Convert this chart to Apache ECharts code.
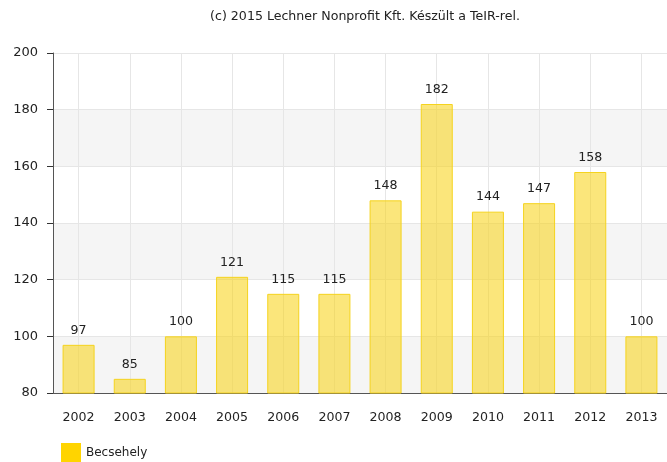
<!DOCTYPE html>
<html>
<head>
<meta charset="utf-8">
<script src="https://cdn.jsdelivr.net/npm/echarts@6/dist/echarts.min.js"></script>
<style>
  html, body { margin: 0; padding: 0; background: #fff; }
  #chart { width: 667px; height: 462px; }
</style>
</head>
<body>
<div id="chart"></div>
<script>
// adatok
const years = ["2002", "2003", "2004", "2005", "2006", "2007", "2008", "2009", "2010", "2011", "2012", "2013"];
const becsehely = [97, 85, 100, 121, 115, 115, 148, 182, 144, 147, 158, 100];
const seriesName = "Becsehely";
const titleText = "(c) 2015 Lechner Nonprofit Kft. Készült a TeIR-rel.";

const myChart = echarts.init(document.getElementById("chart"));
const fontFam = "'DejaVu Sans', Verdana, sans-serif";

const option = {
  animation: false,
  title: {
    text: titleText,
    left: 365,
    textAlign: "center",
    top: 10,
    padding: 0,
    textStyle: { fontSize: 12.6, fontWeight: "normal", color: "#222", fontFamily: fontFam },
  },
  legend: {
    left: 61,
    top: 443,
    padding: 0,
    itemWidth: 20,
    itemHeight: 19,
    itemGap: 5,
    textStyle: { fontSize: 12, color: "#222", fontFamily: fontFam },
    data: [{ name: seriesName, icon: "rect", itemStyle: { color: "#FFD400", borderWidth: 0 } }],
  },
  grid: {
    left: 53,
    top: 53,
    width: 620,
    height: 340,
    containLabel: false,
  },
  xAxis: {
    type: "category",
    data: years,
    axisLine: { lineStyle: { color: "#555", width: 1 } },
    axisTick: { alignWithLabel: true, length: 6, lineStyle: { color: "#333" } },
    axisLabel: { fontSize: 12.6, color: "#222", margin: 18, fontFamily: fontFam },
    splitLine: { show: true, alignWithLabel: true, lineStyle: { color: "#e6e6e6" } },
  },
  yAxis: {
    type: "value",
    min: 80,
    max: 200,
    interval: 20,
    axisLine: { show: true, lineStyle: { color: "#555", width: 1 } },
    axisTick: { show: true, length: 6, lineStyle: { color: "#333" } },
    axisLabel: { fontSize: 13, color: "#222", margin: 15, fontFamily: fontFam },
    splitLine: { show: true, lineStyle: { color: "#e6e6e6" } },
    splitArea: { show: true, areaStyle: { color: ["#f5f5f5", "#ffffff"] } },
  },
  series: [
    {
      name: seriesName,
      type: "bar",
      data: becsehely,
      barWidth: 32,
      itemStyle: {
        color: "rgba(247,210,15,0.55)",
        borderColor: "#F5D31E",
        borderWidth: 1,
      },
      label: {
        show: true,
        position: "top",
        distance: 8,
        fontSize: 12.6,
        color: "#222",
        fontFamily: fontFam,
      },
    },
  ],
};
myChart.setOption(option);
</script>
</body>
</html>
